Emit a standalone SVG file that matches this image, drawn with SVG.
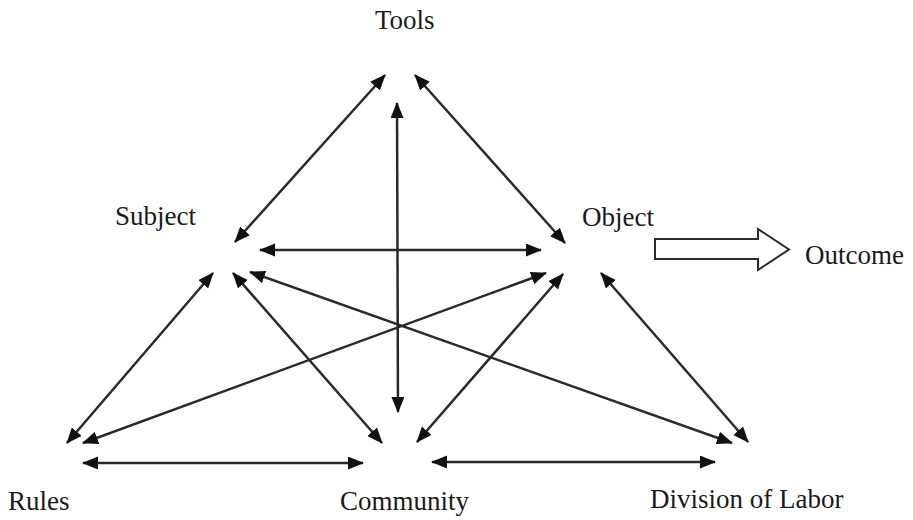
<svg xmlns="http://www.w3.org/2000/svg" width="913" height="520" viewBox="0 0 913 520">
<defs>
<marker id="ah" markerUnits="userSpaceOnUse" markerWidth="17" markerHeight="14" refX="15" refY="6.5" orient="auto-start-reverse" viewBox="0 0 17 14">
<path d="M0,0 L16,6.5 L0,13 z" fill="#111"/>
</marker>
<style>
.lbl{font-family:"Liberation Serif","Times New Roman",serif;font-size:27px;fill:#1a1a1a}
.c{stroke:#2a2a2a;stroke-width:2.5;fill:none;marker-start:url(#ah);marker-end:url(#ah)}
</style>
</defs>
<rect width="913" height="520" fill="#fff"/>
<g id="connectors">
<line class="c" x1="385" y1="75" x2="235" y2="242"/>
<line class="c" x1="415" y1="75" x2="565" y2="243"/>
<line class="c" x1="397" y1="103" x2="398" y2="412"/>
<line class="c" x1="260" y1="250" x2="541" y2="250"/>
<line class="c" x1="213" y1="273" x2="67" y2="443"/>
<line class="c" x1="233" y1="273" x2="382" y2="443"/>
<line class="c" x1="250" y1="272" x2="732" y2="443"/>
<line class="c" x1="546" y1="273" x2="83" y2="443"/>
<line class="c" x1="563" y1="274" x2="417" y2="442"/>
<line class="c" x1="601" y1="273" x2="748" y2="442"/>
<line class="c" x1="83" y1="463" x2="363" y2="463"/>
<line class="c" x1="432" y1="462" x2="715" y2="462"/>
</g>
<g id="outcome-arrow">
<polygon points="655,239 758,239 758,229 789,249.5 758,270 758,259 655,259" fill="#fff" stroke="#2a2a2a" stroke-width="2"/>
</g>
<g id="tools"><text class="lbl" x="375" y="29">Tools</text></g>
<g id="subject"><text class="lbl" x="115" y="225">Subject</text></g>
<g id="object"><text class="lbl" x="582" y="226">Object</text></g>
<g id="outcome"><text class="lbl" x="805" y="264">Outcome</text></g>
<g id="rules"><text class="lbl" x="8" y="510">Rules</text></g>
<g id="community"><text class="lbl" x="340" y="510">Community</text></g>
<g id="division"><text class="lbl" x="650" y="508">Division of Labor</text></g>
</svg>
